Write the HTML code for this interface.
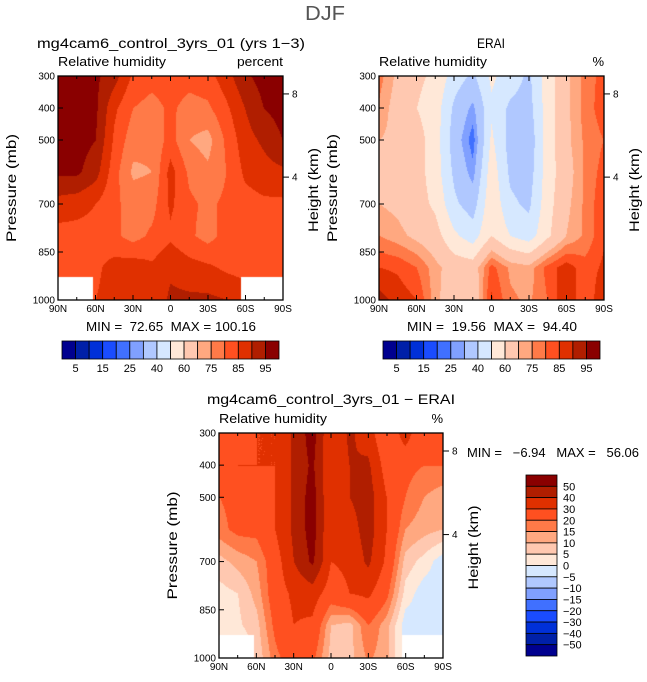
<!DOCTYPE html>
<html><head><meta charset="utf-8"><style>
body{margin:0;background:#fff;}
#wrap{position:relative;width:647px;height:682px;overflow:hidden;font-family:"Liberation Sans",sans-serif;}
canvas{position:absolute;}
svg{position:absolute;left:0;top:0;}
text{white-space:pre;}
</style></head><body>
<div id="wrap">
<canvas id="c1"></canvas>
<canvas id="c2"></canvas>
<canvas id="c3"></canvas>
<svg id="ov" width="647" height="682"></svg>
</div>
<script>
const lats = [90,75,60,45,30,15,0,-15,-30,-45,-60,-75,-90];
const pLevels = [300,400,500,600,700,800,900,1000];
const rhModel = [
 [97,97,96,92,84,82,83,82,83,88,94,97,97],
 [97,97,96,86,80,78,81,78,79,84,90,95,97],
 [97,97,95,84,77,76,82,75,73,81,88,91,95],
 [96,96,92,82,74,75,87,79,76,80,86,88,89],
 [88,87,85,81,78,78,86,81,79,81,83,84,84],
 [83,83,83,81,78,81,84,81,78,82,83,83,83],
 [83,83,84,87,88,86,89,87,86,84,83,83,83],
 [84,84,85,87,88,86,91,91,91,90,88,84,84]];
const rhErai = [
 [77,68,62,58,45,38,52,45,38,55,68,77,82],
 [74,66,60,55,38,28,48,38,36,55,68,77,83],
 [70,68,64,55,35,22,52,36,33,55,68,76,80],
 [68,66,64,55,38,27,56,38,35,55,66,76,82],
 [70,68,64,58,42,35,58,42,38,56,68,76,84],
 [75,72,68,64,52,45,60,50,45,58,70,76,84],
 [85,84,80,72,66,65,82,74,72,82,88,82,86],
 [92,88,85,72,64,62,86,76,74,80,90,80,90]];
const rhDiff = [
 [20,22,30,30,42,55,30,42,35,20,35,20,22],
 [20,30,30,30,42,52,30,40,42,25,22,20,20],
 [20,22,22,30,42,55,30,40,45,30,20,15,12],
 [18,22,22,30,42,55,30,35,45,30,15,12,10],
 [8,12,15,25,40,52,30,32,42,28,8,3,-3],
 [3,5,12,25,32,35,25,30,32,22,3,-3,-3],
 [2,4,8,22,30,28,10,8,20,12,-3,-3,-3],
 [-2,-2,6,18,25,22,8,8,16,12,-3,-3,-3]];
const rhLevels = [5,10,15,20,25,30,40,50,60,70,75,80,85,90,95];
const rhBarLabels = ["5","15","25","40","60","75","85","95"];
const diffLevels = [-50,-40,-30,-20,-15,-10,-5,0,5,10,15,20,30,40,50];
const diffBarLabels = ["50","40","30","20","15","10","5","0","\u22125","\u221210","\u221215","\u221220","\u221230","\u221240","\u221250"];
const latTickLabels = ["90N","60N","30N","0","30S","60S","90S"];
const latTicks = [90,60,30,0,-30,-60,-90];
const pTicks = [300,400,500,700,850,1000];
const heightKm = ["8","4"];
const heightP = [356,616];
const maskRegions = [[90,62,930],[-57,-90,930]];
const colors = ["#00008f","#0020a8","#0030d8","#1a4cff","#4070ff","#80a0ff","#b0c8ff","#d6e8ff","#ffe8d8","#ffc8b0","#ffa880","#ff7a48","#ff5020","#e03000","#b01e00","#8a0000"];

const NS="http://www.w3.org/2000/svg";
const ov=document.getElementById('ov');
function el(tag,attrs,parent){const e=document.createElementNS(NS,tag);for(const k in attrs)e.setAttribute(k,attrs[k]);(parent||ov).appendChild(e);return e;}
function txt(s,x,y,size,anchor,name,extra,len){const a=Object.assign({x:x,y:y,'font-size':size,'text-anchor':anchor||'start',fill:'#000','font-family':'"Liberation Sans",sans-serif'},extra||{});
 if(len){a.textLength=len;a.lengthAdjust='spacingAndGlyphs';}
 const t=el('text',a);t.textContent=s;
 
 
 return t;}
function hexToRgb(h){return [parseInt(h.substr(1,2),16),parseInt(h.substr(3,2),16),parseInt(h.substr(5,2),16)];}
const rgb=colors.map(hexToRgb);
function levelIdx(v,lev){let i=0;while(i<lev.length&&v>=lev[i])i++;return i;}
function interp(data,lat,p){
 let fi=(90-lat)/15, fj=(p-300)/100;
 let i0=Math.min(Math.floor(fi),lats.length-2), j0=Math.min(Math.floor(fj),pLevels.length-2);
 let a=fi-i0,b=fj-j0;
 return data[j0][i0]*(1-a)*(1-b)+data[j0][i0+1]*a*(1-b)+data[j0+1][i0]*(1-a)*b+data[j0+1][i0+1]*a*b;}

function panel(cid,x0,y0,w,h,data,lev,masked){
 const X=lat=>x0+(90-lat)/180*w, Y=p=>y0+(p-300)/700*h;
 const c=document.getElementById(cid);c.width=w;c.height=h;c.style.left=x0+'px';c.style.top=y0+'px';
 const ctx=c.getContext('2d');const img=ctx.createImageData(w,h);
 for(let py=0;py<h;py++)for(let px=0;px<w;px++){
  const lat=90-px/(w-1)*180,p=300+py/(h-1)*700;
  let col=rgb[levelIdx(interp(data,lat,p),lev)];
  if(masked){for(const m of maskRegions){if(lat<=m[0]&&lat>=m[1]&&p>=m[2])col=[255,255,255];}}
  const k=(py*w+px)*4;img.data[k]=col[0];img.data[k+1]=col[1];img.data[k+2]=col[2];img.data[k+3]=255;}
 ctx.putImageData(img,0,0);
 const g=el('g',{});
 
 
 el('rect',{x:x0,y:y0,width:w,height:h,fill:'none',stroke:'#000','stroke-width':1.3},g);
 latTicks.forEach((l,i)=>{const x=X(l);
  el('line',{x1:x,x2:x,y1:y0+h,y2:y0+h-5,stroke:'#000'},g);
  el('line',{x1:x,x2:x,y1:y0,y2:y0+5,stroke:'#000'},g);
  txt(latTickLabels[i],x,y0+h+12,10,'middle','x-tick-label');});
 for(let l=75;l>-90;l-=15){if(l%30===0)continue;const x=X(l);
  el('line',{x1:x,x2:x,y1:y0+h,y2:y0+h-3,stroke:'#000'},g);el('line',{x1:x,x2:x,y1:y0,y2:y0+3,stroke:'#000'},g);}
 pTicks.forEach(p=>{const y=Y(p);el('line',{x1:x0,x2:x0+5,y1:y,y2:y,stroke:'#000'},g);
  txt(String(p),x0-3,y+3.5,10,'end','y-tick-label');});
 heightP.forEach((p,i)=>{const y=Y(p);el('line',{x1:x0+w,x2:x0+w+6,y1:y,y2:y,stroke:'#000'},g);
  txt(heightKm[i],x0+w+9,y+3.5,10,'start','height-tick-label');});
 txt('Pressure (mb)',0,0,14,'middle','y-axis-title',{transform:`translate(${x0-42},${y0+h/2}) rotate(-90)`},108);
 txt('Height (km)',0,0,14,'middle','height-axis-title',{transform:`translate(${x0+w+35},${y0+h/2+2}) rotate(-90)`},84);
 txt('Relative humidity',x0,y0-10,13,'start','variable-label',null,108);
 return {X,Y};
}
function hbar(x0,y0,w,h,name){
 const bw=w/16;const g=el('g',{});
 
 
 colors.forEach((c,i)=>el('rect',{x:x0+i*bw,y:y0,width:bw,height:h,fill:c,stroke:'#000','stroke-width':0.8},g));
 rhBarLabels.forEach((s,k)=>{const i=2*k+1;txt(s,x0+i*bw,y0+h+13,11,'middle','colorbar-label');});
}
txt('DJF',325,20,20,'middle','figure-title',{fill:'#555'},40);
panel('c1',58,76,225,224,rhModel,rhLevels,true);
txt('mg4cam6_control_3yrs_01 (yrs 1\u22123)',171,48,14,'middle','model-panel-title',null,268);
txt('percent',283,66,13,'end','units-label',null,46);
txt('MIN =  72.65  MAX = 100.16',171,331,13,'middle','model-min-max',null,170);
hbar(62,341,217,18,'model-colorbar');
panel('c2',379,76,225,224,rhErai,rhLevels,false);
txt('ERAI',491,48,14,'middle','erai-panel-title',null,28);
txt('%',604,66,13,'end','units-label');
txt('MIN =  19.56  MAX =  94.40',492,331,13,'middle','erai-min-max',null,170);
hbar(383,341,217,18,'erai-colorbar');
panel('c3',219,433,224,225,rhDiff,diffLevels,true);
txt('mg4cam6_control_3yrs_01 \u2212 ERAI',331,404,14,'middle','difference-panel-title',null,248);
txt('%',443,423,13,'end','units-label');
txt('MIN =   \u22126.94   MAX =   56.06',467,457,12.5,'start','difference-min-max',null,172);
(function(){const x0=526,y0=475,w=31,h=181,bh=h/16;const g=el('g',{});
 
 
 for(let i=0;i<16;i++)el('rect',{x:x0,y:y0+i*bh,width:w,height:bh,fill:colors[15-i],stroke:'#000','stroke-width':0.8},g);
 diffBarLabels.forEach((s,i)=>txt(s,x0+w+6,y0+(i+1)*bh+4,11,'start','colorbar-label'));})();
</script>
</body></html>
